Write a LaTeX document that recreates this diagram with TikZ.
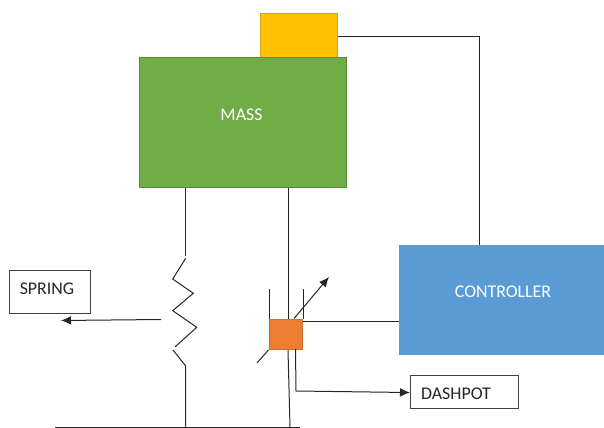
\documentclass[tikz,border=0pt]{standalone}
\usepackage{fontspec}
\setmainfont{Carlito}
\usetikzlibrary{arrows.meta}
\definecolor{massgreen}{RGB}{112,173,71}
\definecolor{massedge}{RGB}{90,140,60}
\definecolor{sensoryellow}{RGB}{255,192,0}
\definecolor{sensoredge}{RGB}{214,165,30}
\definecolor{damperorange}{RGB}{237,125,49}
\definecolor{damperedge}{RGB}{205,110,50}
\definecolor{ctrlblue}{RGB}{91,155,213}
\tikzset{
  wire/.style={line width=0.75pt,color=black!85},
  leader/.style={wire,-{Latex[length=7.5pt,width=6.5pt]}},
  solidbox/.style={draw,line width=0.75pt,anchor=north west,inner sep=0pt},
  labelbox/.style={solidbox,draw=black!75,fill=white},
  boxtext/.style={inner sep=0.75pt,font=\fontsize{13.4}{16}\selectfont},
}
\begin{document}
\begin{tikzpicture}[x=0.75pt,y=0.75pt,yscale=-1,xscale=1]
\useasboundingbox (0,0) rectangle (604,428);

%Shape: Rectangle
\node (sensor) [solidbox,fill=sensoryellow,draw=sensoredge,minimum width=57.75pt,minimum height=33pt] at (260,13) {};
%Shape: Rectangle
\node (mass) [solidbox,fill=massgreen,draw=massedge,minimum width=155.6pt,minimum height=97.5pt] at (138.5,57) {};
%Shape: Rectangle
\node (controller) [solidbox,fill=ctrlblue,draw=ctrlblue,minimum width=153.4pt,minimum height=81.75pt] at (398.5,245) {};
%Shape: Rectangle
\node (damper) [solidbox,fill=damperorange,draw=damperedge,minimum width=25.1pt,minimum height=22.5pt] at (268.5,319) {};
%Shape: Rectangle
\node (springbox) [labelbox,minimum width=60.75pt,minimum height=32.25pt] at (8.5,270) {};
%Shape: Rectangle
\node (dashpotbox) [labelbox,minimum width=81pt,minimum height=24.75pt] at (410,375) {};

% Text Node
\node (masstext) [boxtext,color=white] at (241.5,115) {MASS};
% Text Node
\node (controllertext) [boxtext,color=white] at (503,292) {CONTROLLER};
% Text Node
\node (springtext) [boxtext,color=black!85] at (47,289) {SPRING};
% Text Node
\node (dashpottext) [boxtext,color=black!85] at (456,394) {DASHPOT};

\coordinate (springend) at (185,256);
\coordinate (springtop) at (185.7,258.3);
\coordinate (springbottom) at (185.7,366);
\coordinate (groundleft) at (55,427);
\coordinate (groundright) at (300,427);
\coordinate (rodtop) at (288,319);
\coordinate (rodbottom) at (290,427);
\coordinate (ctrlin) at (479,245);
\coordinate (wallleft) at (269,289);
\coordinate (wallright) at (303,289);
\coordinate (springlead) at (161,319.5);
\coordinate (springtip) at (61,320.5);
\coordinate (dashlead) at (295.5,349);
\coordinate (dashcorner) at (296,391);
\coordinate (tunetip) at (329,277);
\coordinate (tunestart) at (294,318.5);
\coordinate (tuneend) at (257,363);

%Straight Lines
\draw [wire] (mass.south -| springend) -- (springend) ;
%Straight Lines
\draw [wire] (springtop) -- (172.7,279) -- (193.3,293.3) -- (172.7,310.7) -- (196.7,327.3) -- (175,347) ;
%Straight Lines
\draw [wire] (173,350) -- (springbottom) -- (springbottom |- groundleft) ;
%Straight Lines
\draw [wire] (groundleft) -- (groundright) ;
%Straight Lines
\draw [wire] (mass.south -| rodtop) -- (rodtop) ;
%Straight Lines
\draw [wire] (damper.south -| rodtop) -- (rodbottom) ;
%Straight Lines
\draw [wire] (wallleft) -- (wallleft |- damper.north) ;
%Straight Lines
\draw [wire] (wallright) -- (wallright |- damper.north) ;
%Straight Lines
\draw [wire] (damper.south west) -- (tuneend) ;
% Connection
\draw [leader] (tunestart) -- (tunetip) ;
% Connection
\draw [wire] ([yshift=1.1pt]sensor.east) -| (ctrlin) ;
% Connection
\draw [wire] (damper.east |- 0,321.5) -- (controller.west |- 0,321.5) ;
% Connection
\draw [leader] (springlead) -- (springtip) ;
% Connection
\draw [leader] (dashlead) -- (dashcorner) -- ([yshift=0.4pt]dashpotbox.west) ;

\end{tikzpicture}
\end{document}
